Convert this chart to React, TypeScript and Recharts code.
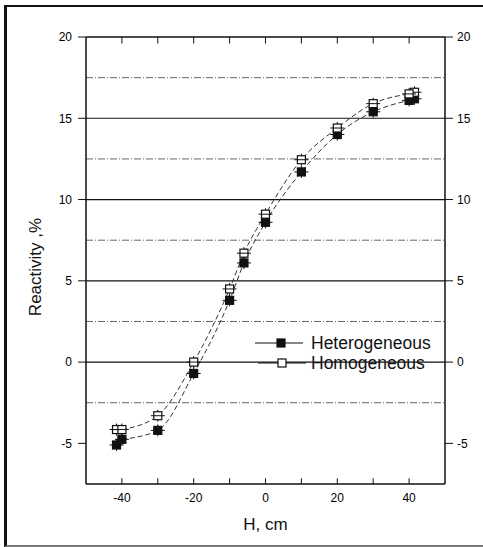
import React from "react";
import {
  ComposedChart,
  Line,
  Scatter,
  XAxis,
  YAxis,
  ReferenceLine,
  Legend,
} from "recharts";

// rod position and measured reactivity
const H_CM = [-40, -30, -20, -10, -6, 0, 10, 20, 30, 40];
const HETEROGENEOUS = [-4.75, -4.2, -0.7, 3.8, 6.1, 8.6, 11.7, 14.0, 15.4, 16.1];
const HOMOGENEOUS = [-4.15, -3.3, 0.0, 4.5, 6.7, 9.1, 12.45, 14.4, 15.9, 16.5];

// repeated measurements at the ends
const REPEAT_H = [-41.5, 41.5];
const HET_REPEAT = [-5.1, 16.2];
const HOM_REPEAT = [-4.15, 16.6];

const Y_TICKS = [-5, 0, 5, 10, 15, 20];
const X_TICKS = [-40, -20, 0, 20, 40];
const X_MINOR = [-40, -30, -20, -10, 0, 10, 20, 30, 40];
const SOLID_GRID = [0, 5, 10, 15];
const DASHDOT_GRID = [-2.5, 2.5, 7.5, 12.5, 17.5];

const LEGEND = [
  { name: "Heterogeneous", filled: true },
  { name: "Homogeneous", filled: false },
];

const FONT = "'Liberation Sans', Arial, Helvetica, sans-serif";

const rows = (xs: number[], ys: number[]) => xs.map((x, i) => ({ x, y: ys[i] }));

function Marker({ cx, cy, filled }: { cx?: number; cy?: number; filled: boolean }) {
  if (cx == null || cy == null) return null;
  const s = 4;
  return (
    <g>
      <line x1={cx - 7} x2={cx + 7} y1={cy} y2={cy} stroke="#111" strokeWidth={1} />
      <line x1={cx} x2={cx} y1={cy - 6} y2={cy + 6} stroke="#111" strokeWidth={1} />
      <rect
        x={cx - s}
        y={cy - s}
        width={s * 2}
        height={s * 2}
        fill={filled ? "#111" : "#fff"}
        stroke="#111"
        strokeWidth={1.2}
      />
      {!filled && (
        <line x1={cx - s} x2={cx + s} y1={cy} y2={cy} stroke="#111" strokeWidth={1} />
      )}
    </g>
  );
}

function LegendBox() {
  return (
    <svg width={200} height={44} style={{ overflow: "visible" }}>
      {LEGEND.map((item, i) => {
        const y = 10 + i * 20;
        return (
          <g key={item.name}>
            <line
              x1={3 + i * 3}
              x2={51 + i * 3}
              y1={y}
              y2={y}
              stroke="#111"
              strokeWidth={1.2}
            />
            <rect
              x={25 + i}
              y={y - 4}
              width={8}
              height={8}
              fill={item.filled ? "#111" : "#fff"}
              stroke="#111"
              strokeWidth={1.2}
            />
            <text
              x={59}
              y={y + 6}
              fontSize={17.5}
              fontFamily={FONT}
              fill="#111"
            >
              {item.name}
            </text>
          </g>
        );
      })}
    </svg>
  );
}

export default function App() {
  const het = rows(H_CM, HETEROGENEOUS);
  const hom = rows(H_CM, HOMOGENEOUS);
  const hetRep = rows(REPEAT_H, HET_REPEAT);
  const homRep = rows(REPEAT_H, HOM_REPEAT);
  const tickStyle = { fontSize: 12, fill: "#000", fontFamily: FONT };

  return (
    <div style={{ position: "absolute", left: 0, top: 0, width: 483, height: 547, background: "#fff" }}>
      <div
        style={{
          position: "absolute",
          left: 4,
          top: 5,
          width: 490,
          height: 538,
          borderLeft: "3px solid #111",
          borderTop: "2.5px solid #111",
          borderBottom: "2px solid #777",
        }}
      />
      <ComposedChart
        width={483}
        height={547}
        margin={{ top: 37, right: 0, bottom: 0, left: 0 }}
        style={{ position: "absolute", left: 0, top: 0 }}
      >
        <XAxis
          dataKey="x"
          type="number"
          domain={[-50, 50]}
          ticks={X_TICKS}
          allowDataOverflow
          height={63}
          tickSize={0}
          tickMargin={9}
          tickLine={false}
          axisLine={{ stroke: "#111", strokeWidth: 1.5 }}
          tick={tickStyle}
          label={{
            value: "H, cm",
            position: "insideBottom",
            offset: 17,
            style: { fontSize: 17, fill: "#111", fontFamily: FONT },
          }}
        />
        <YAxis
          yAxisId="left"
          type="number"
          domain={[-7.5, 20]}
          ticks={Y_TICKS}
          allowDataOverflow
          width={86}
          tickSize={8}
          tickMargin={6}
          tickLine={{ stroke: "#111" }}
          axisLine={{ stroke: "#111", strokeWidth: 1.5 }}
          tick={tickStyle}
          label={{
            content: () => (
              <text
                x={41}
                y={267}
                transform="rotate(-90 41 267)"
                textAnchor="middle"
                fontSize={17}
                fontFamily={FONT}
                fill="#111"
              >
                Reactivity ,%
              </text>
            ),
          }}
        />
        <YAxis
          yAxisId="right"
          orientation="right"
          type="number"
          domain={[-7.5, 20]}
          ticks={Y_TICKS}
          allowDataOverflow
          width={38}
          tickSize={8}
          tickMargin={4}
          tickLine={{ stroke: "#111" }}
          axisLine={{ stroke: "#111", strokeWidth: 1.5 }}
          tick={tickStyle}
        />

        {DASHDOT_GRID.map((v) => (
          <ReferenceLine
            key={"dd" + v}
            yAxisId="left"
            y={v}
            stroke="#666"
            strokeWidth={1}
            strokeDasharray="7 2 1 2"
          />
        ))}
        {SOLID_GRID.map((v) => (
          <ReferenceLine key={"s" + v} yAxisId="left" y={v} stroke="#111" strokeWidth={1.2} />
        ))}
        <ReferenceLine yAxisId="left" y={20} stroke="#111" strokeWidth={1.5} />
        {X_MINOR.map((v) => (
          <ReferenceLine
            key={"bt" + v}
            yAxisId="left"
            segment={[
              { x: v, y: -7.5 },
              { x: v, y: -7.15 },
            ]}
            stroke="#111"
          />
        ))}
        {X_MINOR.map((v) => (
          <ReferenceLine
            key={"tt" + v}
            yAxisId="left"
            segment={[
              { x: v, y: 20 },
              { x: v, y: 19.6 },
            ]}
            stroke="#111"
          />
        ))}

        <Line
          yAxisId="left"
          data={het}
          dataKey="y"
          name="Heterogeneous"
          type="monotone"
          stroke="#333"
          strokeWidth={1}
          strokeDasharray="5 3"
          isAnimationActive={false}
          dot={(p: any) => <Marker key={"h" + p.index} cx={p.cx} cy={p.cy} filled />}
        />
        <Line
          yAxisId="left"
          data={hom}
          dataKey="y"
          name="Homogeneous"
          type="monotone"
          stroke="#333"
          strokeWidth={1}
          strokeDasharray="5 3"
          isAnimationActive={false}
          dot={(p: any) => <Marker key={"o" + p.index} cx={p.cx} cy={p.cy} filled={false} />}
        />
        <Scatter
          yAxisId="left"
          data={hetRep}
          dataKey="y"
          isAnimationActive={false}
          shape={(p: any) => <Marker cx={p.cx} cy={p.cy} filled />}
        />
        <Scatter
          yAxisId="left"
          data={homRep}
          dataKey="y"
          isAnimationActive={false}
          shape={(p: any) => <Marker cx={p.cx} cy={p.cy} filled={false} />}
        />

        <Legend
          layout="vertical"
          align="center"
          verticalAlign="middle"
          wrapperStyle={{ position: "absolute", left: 252, top: 333, width: 200, height: 44 }}
          content={() => <LegendBox />}
        />
      </ComposedChart>
    </div>
  );
}
